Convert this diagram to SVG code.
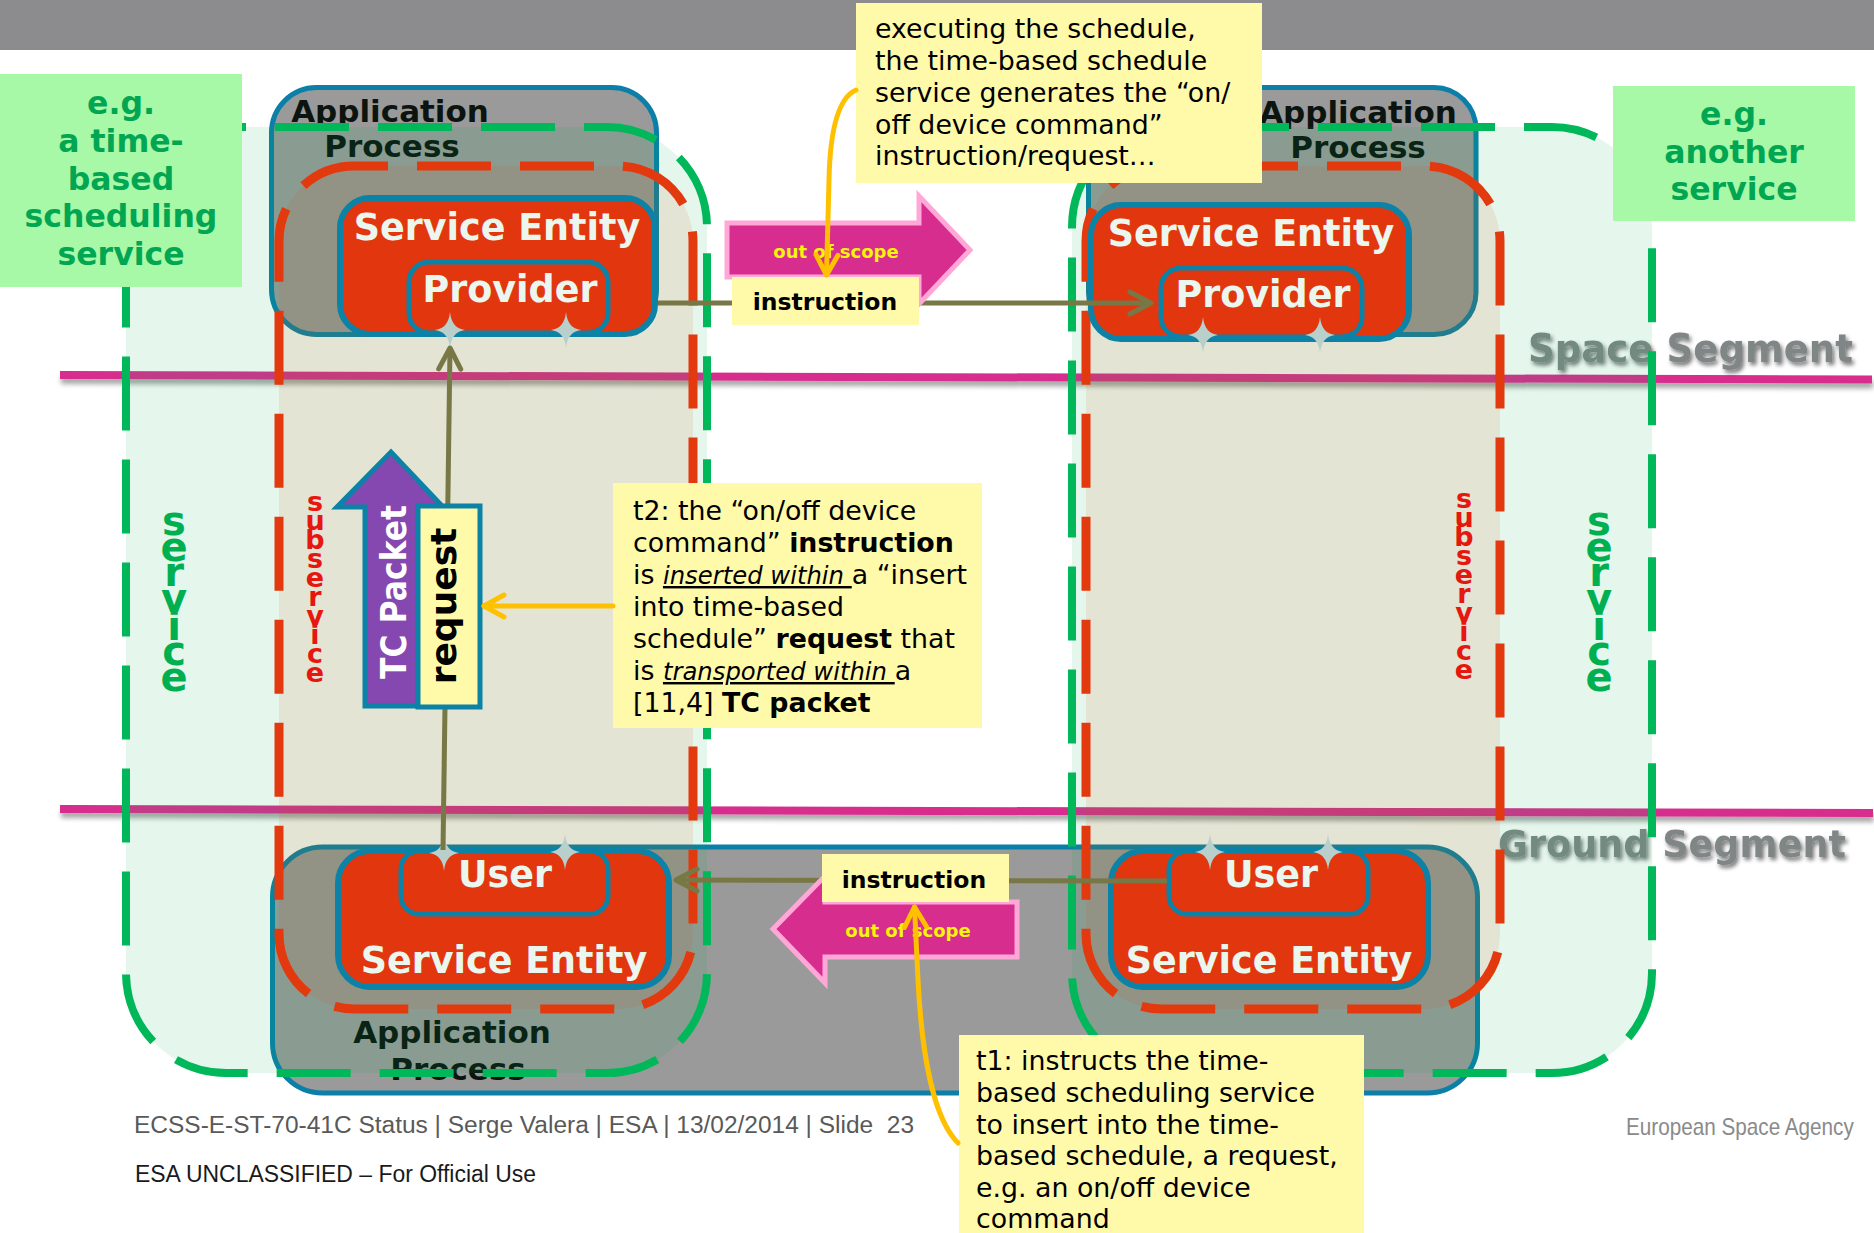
<svg xmlns="http://www.w3.org/2000/svg" xmlns:xlink="http://www.w3.org/1999/xlink" width="1874" height="1233" viewBox="0 0 1874 1233">
  <defs>
    <style>
      .sans { font-family: "DejaVu Sans", Verdana, sans-serif; }
      .bold { font-family: "DejaVu Sans", Verdana, sans-serif; font-weight: bold; }
      .ap-box { fill: #9a9a9a; stroke: #0b7fa8; stroke-width: 5; }
      .ap-text { font-family: "DejaVu Sans", Verdana, sans-serif; font-weight: bold; font-size: 31px; fill: #0b140f; text-anchor: middle; }
      .svc-fill { fill: #00b050; fill-opacity: 0.1; stroke: none; }
      .svc-edge { fill: none; stroke: #00b85a; stroke-width: 8; stroke-dasharray: 74 29; }
      .sub-fill { fill: #e0400e; fill-opacity: 0.1; stroke: none; }
      .sub-edge { fill: none; stroke: #e3390e; stroke-width: 9; stroke-dasharray: 74 29; }
      .se-box { fill: #e2360e; stroke: #0b82a6; stroke-width: 6; }
      .se-inner { fill: #e2360e; stroke: #0b82a6; stroke-width: 5; }
      .se-text { font-family: "DejaVu Sans", Verdana, sans-serif; font-weight: bold; font-size: 36.5px; fill: #ebf6ee; text-anchor: middle; }
      .sparkle { fill: #b8cfcb; }
      .olive { fill: none; stroke: #787746; stroke-width: 5; }
      .gold { fill: none; stroke: #ffc000; stroke-width: 5; stroke-linecap: round; }
      .note { fill: #fffaaa; }
      .note-text { font-family: "DejaVu Sans", Verdana, sans-serif; font-size: 26.8px; fill: #000000; }
      .em { font-style: italic; font-size: 24.3px; text-decoration: underline; }
      .tag { fill: #fffaaa; }
      .tag-text { font-family: "DejaVu Sans", Verdana, sans-serif; font-weight: bold; font-size: 23.5px; fill: #000000; text-anchor: middle; }
      .oos { fill: #d72d8e; stroke: #ffa8d8; stroke-width: 5; stroke-linejoin: miter; }
      .oos-text { font-family: "DejaVu Sans", Verdana, sans-serif; font-weight: bold; font-size: 18px; fill: #f4f40c; text-anchor: middle; }
      .label-box { fill: #a7f8a7; }
      .label-text { font-family: "DejaVu Sans", Verdana, sans-serif; font-weight: bold; font-size: 31.5px; fill: #00a651; text-anchor: middle; }
      .stack-svc { font-family: "DejaVu Sans", Verdana, sans-serif; font-weight: bold; font-size: 40px; fill: #00b050; text-anchor: middle; }
      .stack-sub { font-family: "DejaVu Sans", Verdana, sans-serif; font-weight: bold; font-size: 27px; fill: #e5170f; text-anchor: middle; }
      .segment { font-family: "DejaVu Sans", Verdana, sans-serif; font-weight: bold; fill: #7f8685; }
      .divider { stroke: #d72d8e; stroke-width: 8; }
      .foot { font-family: "Liberation Sans", Arial, sans-serif; font-size: 23px; }
    </style>
    <filter id="soft-shadow" x="-5%" y="-50%" width="110%" height="250%">
      <feGaussianBlur in="SourceAlpha" stdDeviation="2.5"/>
      <feOffset dx="1" dy="5" result="blur"/>
      <feComponentTransfer><feFuncA type="linear" slope="0.35"/></feComponentTransfer>
      <feMerge><feMergeNode/><feMergeNode in="SourceGraphic"/></feMerge>
    </filter>
    <filter id="text-shadow" x="-5%" y="-30%" width="115%" height="170%">
      <feGaussianBlur in="SourceAlpha" stdDeviation="2"/>
      <feOffset dx="2" dy="3"/>
      <feComponentTransfer><feFuncA type="linear" slope="0.55"/></feComponentTransfer>
      <feMerge><feMergeNode/><feMergeNode in="SourceGraphic"/></feMerge>
    </filter>
    <marker id="olive-head" markerUnits="userSpaceOnUse" viewBox="-26 -15 30 30" refX="0" refY="0" markerWidth="30" markerHeight="30" orient="auto" overflow="visible">
      <path d="M-21,-11 L0,0 L-21,11" fill="none" stroke="#787746" stroke-width="5" stroke-linecap="round" stroke-linejoin="round"/>
    </marker>
    <marker id="gold-head" markerUnits="userSpaceOnUse" viewBox="-24 -14 28 28" refX="0" refY="0" markerWidth="28" markerHeight="28" orient="auto" overflow="visible">
      <path d="M-20,-11 L0,0 L-20,11" fill="none" stroke="#ffc000" stroke-width="5" stroke-linecap="round" stroke-linejoin="round"/>
    </marker>
    <path id="sparkle" d="M0,-18 Q1.6,-1.6 15,0 Q1.6,1.6 0,18 Q-1.6,1.6 -15,0 Q-1.6,-1.6 0,-18 Z"/>
  </defs>

  <!-- page -->
  <rect x="0" y="0" width="1874" height="1233" fill="#ffffff"/>
  <rect x="0" y="0" width="1874" height="50" fill="#8c8c8e"/>

  <!-- space / ground dividers and their captions -->
  <g id="segments">
    <g filter="url(#soft-shadow)">
      <line class="divider" x1="60" y1="375" x2="1872" y2="379.5"/>
      <line class="divider" x1="60" y1="809" x2="1873" y2="813"/>
    </g>
    <text class="segment" transform="translate(1528,362) scale(0.945,1)" x="0" y="0" font-size="39.3" filter="url(#text-shadow)">Space Segment</text>
    <text class="segment" x="1498" y="857" font-size="36.6" filter="url(#text-shadow)">Ground Segment</text>
  </g>

  <!-- application processes (space side and ground side) -->
  <g id="ap-space-left">
    <rect class="ap-box" x="271.5" y="87.5" width="385" height="247" rx="45"/>
    <text class="ap-text" x="390" y="122">Application</text>
    <text class="ap-text" x="392" y="157">Process</text>
  </g>
  <g id="ap-space-right">
    <rect class="ap-box" x="1088.5" y="87.5" width="387.5" height="247" rx="42"/>
    <text class="ap-text" x="1358" y="123">Application</text>
    <text class="ap-text" x="1358" y="158">Process</text>
  </g>
  <g id="ap-ground">
    <rect class="ap-box" x="272.5" y="847" width="1205" height="246" rx="50"/>
    <text class="ap-text" x="452" y="1043">Application</text>
    <text class="ap-text" x="458" y="1080">Process</text>
  </g>

  <!-- service and subservice scopes -->
  <g id="service-left">
    <rect class="svc-fill" x="126" y="127" width="581" height="946" rx="100"/>
  </g>
  <g id="service-right">
    <rect class="svc-fill" x="1072" y="127" width="580" height="946" rx="100"/>
  </g>
  <g id="subservice-left">
    <rect class="sub-fill" x="279" y="166" width="414" height="843" rx="75"/>
  </g>
  <g id="subservice-right">
    <rect class="sub-fill" x="1086" y="166" width="414" height="843" rx="75"/>
  </g>
  <g id="scope-edges">
    <rect class="svc-edge" x="126" y="127" width="581" height="946" rx="100" stroke-dashoffset="54"/>
    <rect class="svc-edge" x="1072" y="127" width="580" height="946" rx="100" stroke-dashoffset="60"/>
    <rect class="sub-edge" x="279" y="166" width="414" height="843" rx="75" stroke-dashoffset="40"/>
    <rect class="sub-edge" x="1086" y="166" width="414" height="843" rx="75" stroke-dashoffset="40"/>
  </g>

  <!-- stacked scope captions -->
  <g id="scope-captions">
    <text class="stack-svc"><tspan x="174" y="535">s</tspan><tspan x="174" y="561">e</tspan><tspan x="174" y="586">r</tspan><tspan x="174" y="612">v</tspan><tspan x="174" y="640">i</tspan><tspan x="174" y="665">c</tspan><tspan x="174" y="691">e</tspan></text>
    <text class="stack-svc"><tspan x="1599" y="535">s</tspan><tspan x="1599" y="561">e</tspan><tspan x="1599" y="586">r</tspan><tspan x="1599" y="612">v</tspan><tspan x="1599" y="640">i</tspan><tspan x="1599" y="665">c</tspan><tspan x="1599" y="691">e</tspan></text>
    <text class="stack-sub"><tspan x="315" y="511">s</tspan><tspan x="315" y="530">u</tspan><tspan x="315" y="549">b</tspan><tspan x="315" y="568">s</tspan><tspan x="315" y="587">e</tspan><tspan x="315" y="606">r</tspan><tspan x="315" y="625">v</tspan><tspan x="315" y="644">i</tspan><tspan x="315" y="663">c</tspan><tspan x="315" y="682">e</tspan></text>
    <text class="stack-sub"><tspan x="1464" y="508">s</tspan><tspan x="1464" y="527">u</tspan><tspan x="1464" y="546">b</tspan><tspan x="1464" y="565">s</tspan><tspan x="1464" y="584">e</tspan><tspan x="1464" y="603">r</tspan><tspan x="1464" y="622">v</tspan><tspan x="1464" y="641">i</tspan><tspan x="1464" y="660">c</tspan><tspan x="1464" y="679">e</tspan></text>
  </g>

  <!-- service entities -->
  <g id="se-provider-left">
    <rect class="se-box" x="340" y="198" width="315" height="136" rx="30"/>
    <text class="se-text" x="497" y="240">Service Entity</text>
    <rect class="se-inner" x="409" y="262" width="199" height="71" rx="20"/>
    <text class="se-text" x="510" y="302">Provider</text>
    <use xlink:href="#sparkle" class="sparkle" x="450" y="330"/>
    <use xlink:href="#sparkle" class="sparkle" x="566" y="330"/>
  </g>
  <g id="se-provider-right">
    <rect class="se-box" x="1091" y="205" width="318" height="134" rx="30"/>
    <text class="se-text" x="1251" y="246">Service Entity</text>
    <rect class="se-inner" x="1161" y="268" width="201" height="69" rx="20"/>
    <text class="se-text" x="1263" y="307">Provider</text>
    <use xlink:href="#sparkle" class="sparkle" x="1203" y="335"/>
    <use xlink:href="#sparkle" class="sparkle" x="1320" y="335"/>
  </g>
  <g id="se-user-left">
    <rect class="se-box" x="338" y="851" width="331" height="136" rx="32"/>
    <rect class="se-inner" x="401" y="851" width="207" height="63" rx="18"/>
    <text class="se-text" x="505" y="887">User</text>
    <text class="se-text" x="504" y="973">Service Entity</text>
    <use xlink:href="#sparkle" class="sparkle" x="444" y="853"/>
    <use xlink:href="#sparkle" class="sparkle" x="565" y="852"/>
  </g>
  <g id="se-user-right">
    <rect class="se-box" x="1111" y="851" width="317" height="136" rx="32"/>
    <rect class="se-inner" x="1169" y="851" width="199" height="63" rx="18"/>
    <text class="se-text" x="1271" y="887">User</text>
    <text class="se-text" x="1269" y="973">Service Entity</text>
    <use xlink:href="#sparkle" class="sparkle" x="1210" y="852"/>
    <use xlink:href="#sparkle" class="sparkle" x="1328" y="852"/>
  </g>

  <!-- instruction / request flows -->
  <g id="connectors">
    <line class="olive" x1="658" y1="303" x2="1151" y2="303" marker-end="url(#olive-head)"/>
    <line class="olive" x1="443" y1="850" x2="450" y2="348" marker-end="url(#olive-head)"/>
    <line class="olive" x1="1167" y1="881" x2="676" y2="880" marker-end="url(#olive-head)"/>
  </g>

  <!-- TC packet carrying the request -->
  <g id="tc-packet">
    <path d="M365,706 L365,507 L337,507 L391,452 L443,507 L418,507 L418,706 Z" fill="#8548b0" stroke="#0b82a6" stroke-width="5" stroke-linejoin="miter"/>
    <text class="bold" transform="translate(406,592) rotate(-90) scale(0.9,1)" font-size="35" fill="#ffffff" text-anchor="middle">TC Packet</text>
  </g>
  <g id="request">
    <rect x="418" y="506" width="62" height="201" fill="#fffaaa" stroke="#0b82a6" stroke-width="5"/>
    <text class="bold" transform="translate(456,606) rotate(-90)" font-size="36" fill="#000000" text-anchor="middle">request</text>
  </g>

  <!-- out of scope arrows -->
  <g id="out-of-scope-space">
    <polygon class="oos" points="727,223 919,223 919,196 970,250 919,304 919,277 727,277"/>
    <text class="oos-text" x="836" y="258">out of scope</text>
  </g>
  <g id="out-of-scope-ground">
    <polygon class="oos" points="1017,902 825,902 825,876 773,929 825,983 825,957 1017,957"/>
    <text class="oos-text" x="908" y="937">out of scope</text>
  </g>

  <!-- flow labels -->
  <g id="instruction-space">
    <rect class="tag" x="732" y="277" width="187" height="48"/>
    <text class="tag-text" x="825" y="310">instruction</text>
  </g>
  <g id="instruction-ground">
    <rect class="tag" x="822" y="854" width="187" height="48"/>
    <text class="tag-text" x="914" y="888">instruction</text>
  </g>

  <!-- example captions -->
  <g id="example-left">
    <rect class="label-box" x="0" y="74" width="242" height="213"/>
    <text class="label-text"><tspan x="121" y="114">e.g.</tspan><tspan x="121" y="152">a time-</tspan><tspan x="121" y="189.5">based</tspan><tspan x="121" y="227">scheduling</tspan><tspan x="121" y="265">service</tspan></text>
  </g>
  <g id="example-right">
    <rect class="label-box" x="1613" y="86" width="242" height="135"/>
    <text class="label-text"><tspan x="1734" y="125">e.g.</tspan><tspan x="1734" y="163">another</tspan><tspan x="1734" y="200">service</tspan></text>
  </g>

  <!-- explanatory notes -->
  <g id="note-execute">
    <rect class="note" x="856" y="3" width="406" height="180"/>
    <text class="note-text"><tspan x="875" y="38">executing the schedule,</tspan><tspan x="875" y="70">the time-based schedule</tspan><tspan x="875" y="102">service generates the “on/</tspan><tspan x="875" y="134">off device command”</tspan><tspan x="875" y="165">instruction/request…</tspan></text>
  </g>
  <g id="note-t2">
    <rect class="note" x="613" y="483" width="369" height="245"/>
    <text class="note-text">
      <tspan x="633" y="520">t2: the “on/off device</tspan>
      <tspan x="633" y="552">command” <tspan font-weight="bold">instruction</tspan></tspan>
      <tspan x="633" y="584">is <tspan class="em">inserted within </tspan>a “insert</tspan>
      <tspan x="633" y="616">into time-based</tspan>
      <tspan x="633" y="648">schedule” <tspan font-weight="bold">request</tspan> that</tspan>
      <tspan x="633" y="680">is <tspan class="em">transported within </tspan>a</tspan>
      <tspan x="633" y="712">[11,4] <tspan font-weight="bold">TC packet</tspan></tspan>
    </text>
  </g>
  <g id="note-t1">
    <rect class="note" x="959" y="1035" width="405" height="205"/>
    <text class="note-text"><tspan x="976" y="1070">t1: instructs the time-</tspan><tspan x="976" y="1102">based scheduling service</tspan><tspan x="976" y="1134">to insert into the time-</tspan><tspan x="976" y="1165">based schedule, a request,</tspan><tspan x="976" y="1197">e.g. an on/off device</tspan><tspan x="976" y="1228">command</tspan></text>
  </g>
  <g id="note-pointers">
    <path class="gold" d="M856,90 C838,98 830,130 829,180 L826.5,275" marker-end="url(#gold-head)"/>
    <line class="gold" x1="613" y1="606" x2="484" y2="606" marker-end="url(#gold-head)"/>
    <path class="gold" d="M958,1143 C935,1120 922,1060 918,980 L914.5,907" marker-end="url(#gold-head)"/>
  </g>

  <!-- footer -->
  <g id="footer">
    <text class="foot" x="134" y="1133" fill="#595959" textLength="780" lengthAdjust="spacingAndGlyphs" xml:space="preserve">ECSS-E-ST-70-41C Status | Serge Valera | ESA | 13/02/2014 | Slide  23</text>
    <text class="foot" x="135" y="1182" fill="#1a1a1a" textLength="401" lengthAdjust="spacingAndGlyphs">ESA UNCLASSIFIED – For Official Use</text>
    <text class="foot" transform="translate(1626,1135) scale(0.9,1)" x="0" y="0" font-size="24.5" fill="#8a8a8a">European Space Agency</text>
  </g>
</svg>
